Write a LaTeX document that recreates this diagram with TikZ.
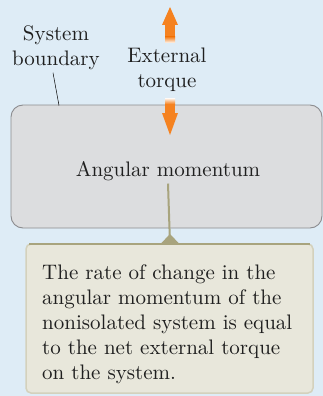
\documentclass[tikz,border=0pt]{standalone}
\usepackage{fontspec}
\setmainfont{lmroman10-regular.otf}
\usetikzlibrary{arrows.meta,calc}
\definecolor{bgblue}{RGB}{222,236,246}
\definecolor{boxgray}{RGB}{220,221,223}
\definecolor{boxedge}{RGB}{140,140,143}
\definecolor{notefill}{RGB}{232,231,219}
\definecolor{noteside}{RGB}{212,209,188}
\definecolor{olive}{RGB}{168,164,126}
\definecolor{torque}{RGB}{245,130,32}
\tikzset{
  lab/.style={font=\fontsize{21}{25}\selectfont, inner sep=0pt, text=black!88},
  sysbox/.style={draw=boxedge, line width=0.9pt, fill=boxgray, rounded corners=12pt},
  notebox/.style={draw=noteside, line width=1.5pt, fill=notefill, rounded corners=5pt},
  noteedge/.style={draw=olive, line width=2.5pt},
  link/.style={draw=olive, line width=2pt},
  leader/.style={draw=black, line width=0.5pt},
}

\begin{document}
\begin{tikzpicture}[x=1pt,y=-1pt]
\useasboundingbox (0,0) rectangle (323,396);
\fill[bgblue] (0,0) rectangle (323,396);
% system box
\draw[sysbox] (11,105) rectangle (322,228);
\node[lab, anchor=base] (am) at (168,176) {Angular momentum};
% note box
\draw[notebox] (26,244) rectangle (313,393);
\draw[noteedge] (29,244) -- (310,244);
\coordinate (notetop) at (170,244);
\node[lab, anchor=north west, align=left] (note) at (42,264.4)
  {The rate of change in the\\ angular momentum of the\\ nonisolated system is equal\\ to the net external torque\\ on the system.};
% link: box -> note
\draw[link] ([yshift=-3pt]am.south) -- (notetop);
\fill[olive] (160,244.5) -- (170,234) -- (180,244.5) -- cycle;
% labels
\node[lab, anchor=north, align=center] (sb) at (56,25.2) {System\\ boundary};
\node[lab, anchor=north, align=center] (ext) at (167,47.4) {External\\ torque};
\coordinate (sbend) at (59,105.5);
\draw[leader] ($(sb.south)+(-3,3)$) -- (sbend);
% torque arrows (shaft fades out)
\fill[torque] (162,25) -- (170,7) -- (178,25) -- cycle;
\fill[torque] (165,24) rectangle (175,37);
\shade[top color=torque, bottom color=torque!4] (165,37) rectangle (175,43);
\shade[top color=torque!4, bottom color=torque] (165,98) rectangle (175,104);
\fill[torque] (165,104) rectangle (175,114);
\fill[torque] (162,113) -- (170,135) -- (178,113) -- cycle;
\end{tikzpicture}
\end{document}
